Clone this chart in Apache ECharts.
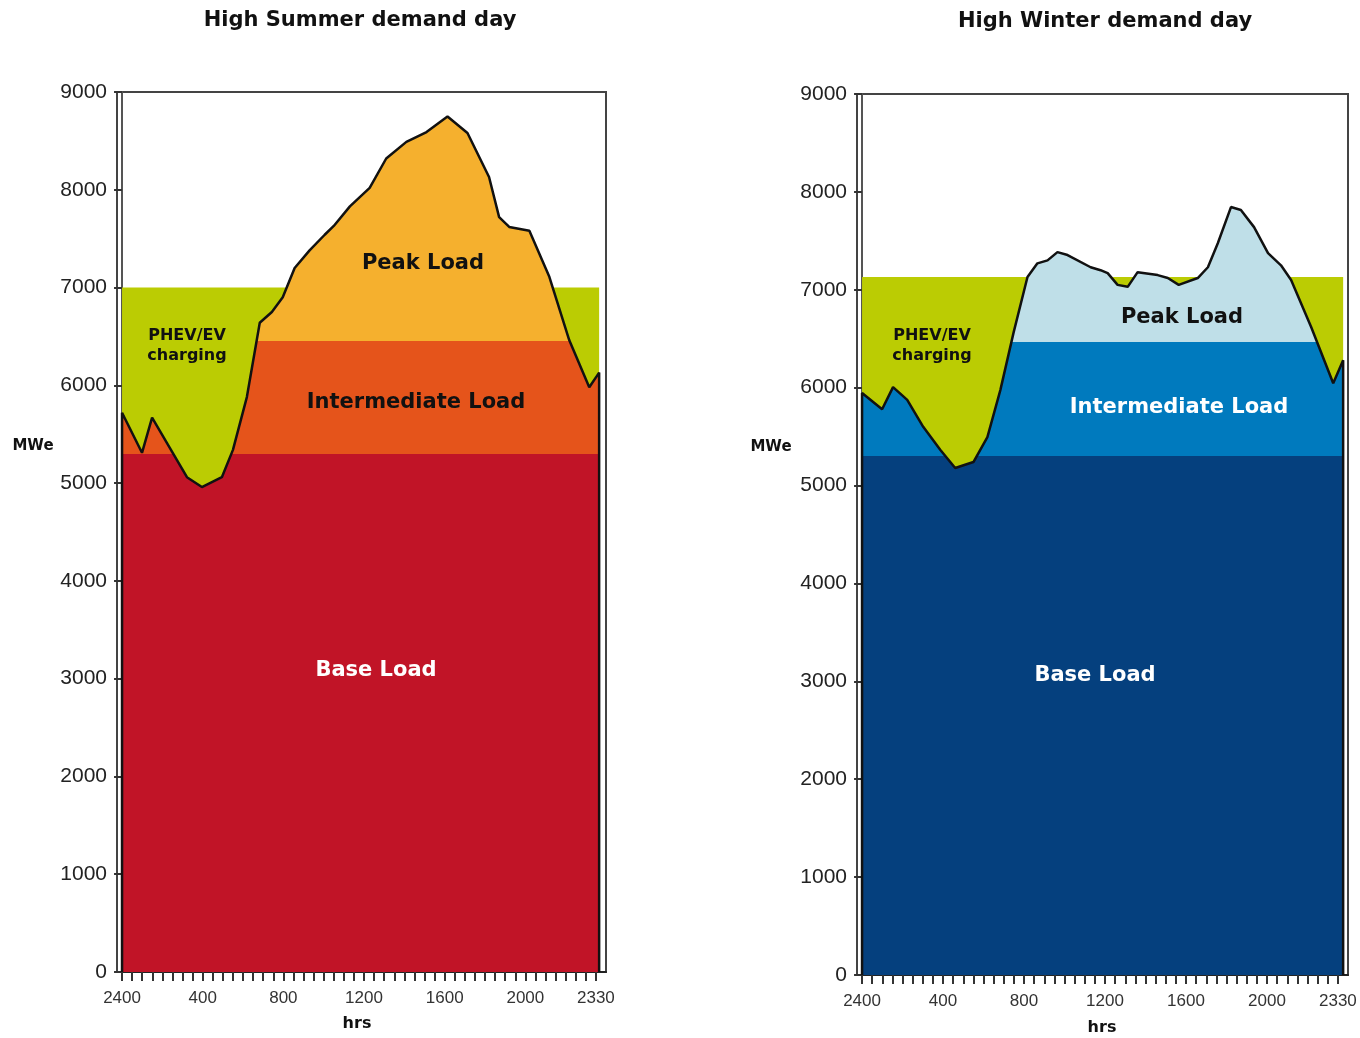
<!DOCTYPE html>
<html><head><meta charset="utf-8">
<script src="https://cdn.jsdelivr.net/npm/echarts@6/dist/echarts.min.js"></script>
<style>html,body{margin:0;padding:0;background:#fff}#c{width:1360px;height:1038px}</style>
</head><body><div id="c"></div>
<script>
// ---- Data ----
const summerHours  = [0, 0.99, 1.49, 2.23, 3.22, 3.96, 4.95, 5.5, 6.19, 6.83, 7.43, 7.97, 8.56, 9.3, 10.05, 10.5, 11.3, 12.28, 13.1, 14.1, 15.1, 16.14, 17.13, 18.2, 18.7, 19.2, 20.2, 21.19, 22.18, 23.17, 23.66];
const summerDemand = [5720, 5310, 5670, 5410, 5060, 4960, 5060, 5340, 5880, 6640, 6750, 6900, 7200, 7380, 7540, 7630, 7830, 8020, 8320, 8490, 8590, 8750, 8580, 8130, 7720, 7620, 7580, 7110, 6460, 5980, 6130];
const summerBaseTop = 5300;
const summerIntermediateTop = 6450;
const summerChargingTop = 7000;

const winterHours  = [0, 0.99, 1.53, 2.23, 3.02, 3.86, 4.6, 5.5, 6.19, 6.83, 7.48, 8.17, 8.66, 9.16, 9.65, 10.15, 11.29, 11.78, 12.13, 12.62, 13.12, 13.61, 14.6, 15.1, 15.64, 16.58, 17.08, 17.57, 18.22, 18.71, 19.36, 20.05, 20.69, 21.19, 22.18, 23.27, 23.76];
const winterDemand = [5945, 5780, 6005, 5875, 5600, 5365, 5180, 5240, 5495, 5975, 6560, 7130, 7270, 7300, 7385, 7355, 7230, 7200, 7170, 7050, 7030, 7180, 7150, 7120, 7050, 7120, 7230, 7475, 7845, 7815, 7640, 7375, 7250, 7100, 6620, 6045, 6280];
const winterBaseTop = 5300;
const winterIntermediateTop = 6465;
const winterChargingTop = 7130;

const xLabelHours = [0, 4, 8, 12, 16, 20, 23.5];
const xLabelText  = ['2400', '400', '800', '1200', '1600', '2000', '2330'];
const tickHours = Array.from({length: 48}, (_, i) => i * 0.5);

const summerColors = {base: '#C11427', inter: '#E5541B', peak: '#F5B02E', charge: '#BBCC03'};
const winterColors = {base: '#05407E', inter: '#007ABE', peak: '#BFDFE8', charge: '#BBCC03'};

// ---- Build ----
const chart = echarts.init(document.getElementById('c'), null, {renderer: 'canvas'});

const grids = [], xAxes = [], yAxes = [], series = [], visualMaps = [];

function panel(idx, g, hours, demand, baseTop, interTop, chargeTop, colors) {
  grids.push({left: g.left, top: g.top, width: g.width, height: g.height, show: true,
    borderColor: '#444', borderWidth: 2, backgroundColor: 'transparent',
    containLabel: false, outerBoundsMode: 'none'});
  xAxes.push({type: 'value', gridIndex: idx, min: -0.25, max: 24,
    axisLine: {show: true, onZero: false, lineStyle: {color: '#222', width: 2}},
    axisTick: {show: true, length: 9, customValues: tickHours, lineStyle: {color: '#333', width: 2}},
    axisLabel: {customValues: xLabelHours, margin: 18, color: '#333', fontSize: 17,
      fontFamily: 'Liberation Sans',
      formatter: v => { const i = xLabelHours.indexOf(v); return i >= 0 ? xLabelText[i] : ''; }},
    splitLine: {show: false}});
  yAxes.push({type: 'value', gridIndex: idx, min: 0, max: 9000, interval: 1000,
    axisLine: {show: true, lineStyle: {color: '#555', width: 2}},
    axisTick: {show: true, length: 8, lineStyle: {color: '#333', width: 2}},
    axisLabel: {margin: 10, color: '#222', fontSize: 21, fontFamily: 'Liberation Sans',
      formatter: v => String(v)},
    splitLine: {show: false}});
  const h0 = hours[0], hN = hours[hours.length - 1];
  series.push({type: 'line', xAxisIndex: idx, yAxisIndex: idx, silent: true, symbol: 'none',
    data: [[h0, chargeTop], [hN, chargeTop]], lineStyle: {width: 0},
    areaStyle: {color: colors.charge, opacity: 1}, z: 1});
  const pts = [[h0, 0]].concat(hours.map((h, i) => [h, demand[i]])).concat([[hN, 0]]);
  series.push({type: 'line', xAxisIndex: idx, yAxisIndex: idx, silent: true, symbol: 'none',
    data: pts, lineStyle: {color: '#111', width: 2.5}, areaStyle: {opacity: 1}, z: 2});
  visualMaps.push({type: 'piecewise', show: false, seriesIndex: series.length - 1, dimension: 1,
    pieces: [{lt: baseTop, color: colors.base},
             {gte: baseTop, lt: interTop, color: colors.inter},
             {gte: interTop, color: colors.peak}]});
}

panel(0, {left: 117, top: 92, width: 489, height: 880}, summerHours, summerDemand,
      summerBaseTop, summerIntermediateTop, summerChargingTop, summerColors);
panel(1, {left: 857, top: 94, width: 491, height: 881}, winterHours, winterDemand,
      winterBaseTop, winterIntermediateTop, winterChargingTop, winterColors);

const BOLD = '"DejaVu Sans"';
function txt(text, x, y, size, fill, lh) {
  return {type: 'text', x: x, y: y, z: 100, silent: true,
    style: {text: text, fill: fill, font: 'bold ' + size + 'px ' + BOLD,
      align: 'center', verticalAlign: 'middle', lineHeight: lh || size * 1.2}};
}

const graphics = [
  txt('High Summer demand day', 360, 21, 21, '#111'),
  txt('Peak Load', 423, 264, 21, '#111'),
  txt('Intermediate Load', 416, 403, 21, '#111'),
  txt('Base Load', 376, 671, 21, '#fff'),
  txt('PHEV/EV\ncharging', 187, 346, 16, '#111', 20),
  txt('MWe', 33, 446, 15, '#111'),
  txt('hrs', 357, 1024, 16, '#111'),
  txt('High Winter demand day', 1105, 22, 21, '#111'),
  txt('Peak Load', 1182, 318, 21, '#111'),
  txt('Intermediate Load', 1179, 408, 21, '#fff'),
  txt('Base Load', 1095, 676, 21, '#fff'),
  txt('PHEV/EV\ncharging', 932, 346, 16, '#111', 20),
  txt('MWe', 771, 447, 15, '#111'),
  txt('hrs', 1102, 1028, 16, '#111')
];

chart.setOption({
  animation: false,
  backgroundColor: '#fff',
  grid: grids, xAxis: xAxes, yAxis: yAxes, series: series, visualMap: visualMaps,
  graphic: graphics
});
</script></body></html>
